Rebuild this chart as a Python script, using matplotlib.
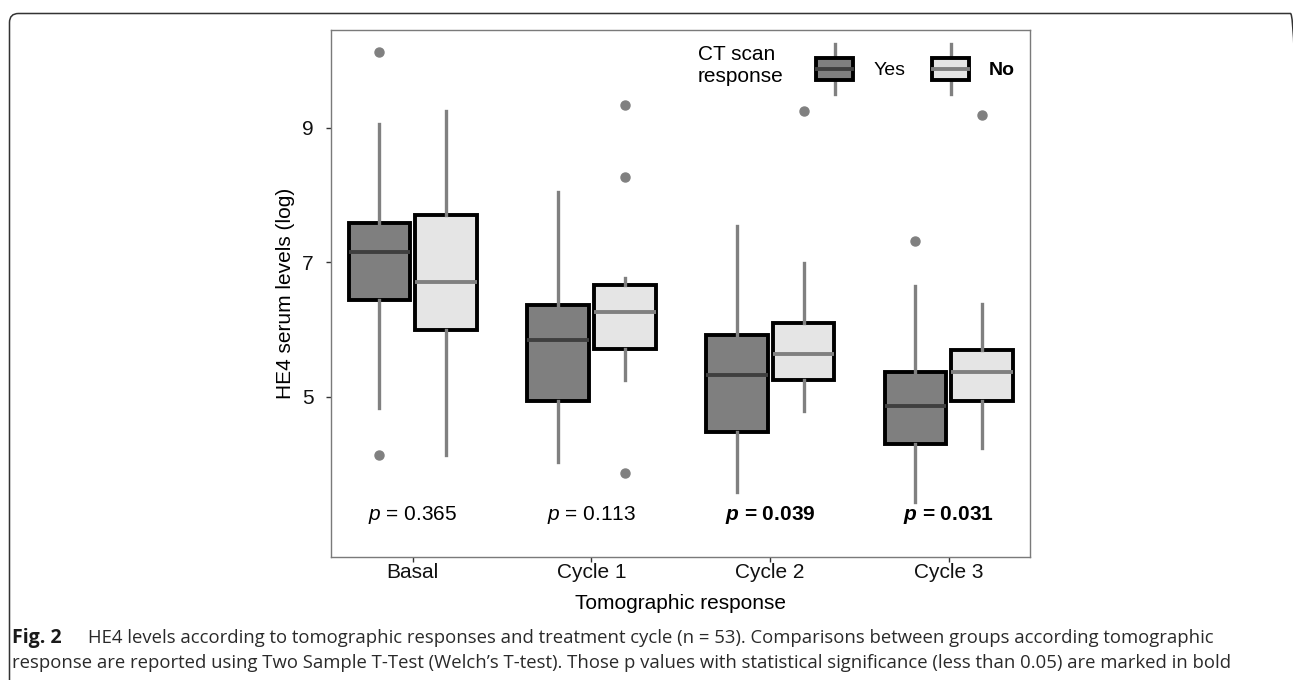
import numpy as np
import matplotlib.pyplot as plt
from matplotlib.patches import Rectangle, FancyBboxPatch
from matplotlib.lines import Line2D
from matplotlib.legend_handler import HandlerBase

# Donnees (log HE4)
cycles = ["Basal", "Cycle 1", "Cycle 2", "Cycle 3"]
p_valeurs = ["0.365", "0.113", "0.039", "0.031"]
p_signif = [False, False, True, True]

# reponse scanner = Yes
oui_q1 = [6.44, 4.94, 4.47, 4.30]
oui_med = [7.15, 5.85, 5.33, 4.87]
oui_q3 = [7.58, 6.37, 5.92, 5.37]
oui_bas = [4.83, 4.03, 3.59, 3.43]
oui_haut = [9.05, 8.05, 7.54, 6.64]
oui_atyp = [[10.12, 4.14], [], [], [7.32]]

# reponse scanner = No
non_q1 = [6.00, 5.71, 5.25, 4.94]
non_med = [6.70, 6.26, 5.63, 5.37]
non_q3 = [7.70, 6.66, 6.10, 5.69]
non_bas = [4.13, 5.25, 4.79, 4.24]
non_haut = [9.24, 6.77, 6.99, 6.38]
non_atyp = [[], [9.34, 8.26, 3.87], [9.24], [9.19]]

gris = "#808080"
fonce = "#7f7f7f"
clair = "#e5e5e5"

plt.rcParams['font.family'] = ["Liberation Sans", "DejaVu Sans"]
plt.rcParams['mathtext.fontset'] = 'custom'
plt.rcParams['mathtext.it'] = 'Liberation Sans:italic'
plt.rcParams['mathtext.bf'] = 'Liberation Sans:bold'
plt.rcParams['mathtext.bfit'] = 'Liberation Sans:bold:italic'


def stats(q1, med, q3, bas, haut, atyp):
    return [dict(q1=a, med=b, q3=c, whislo=d, whishi=e, fliers=f)
            for a, b, c, d, e, f in zip(q1, med, q3, bas, haut, atyp)]


class HandlerBoite(HandlerBase):
    """Symbole de legende en forme de boite a moustaches"""

    def __init__(self, couleur, mediane):
        super().__init__()
        self.couleur = couleur
        self.mediane = mediane

    def create_artists(self, legend, orig_handle, xdescent, ydescent,
                       width, height, fontsize, trans):
        x0 = -xdescent
        y0 = -ydescent
        cx = x0 + width / 2
        trait = Line2D([cx, cx], [y0 - 0.635 * height, y0 + 1.635 * height],
                       color=gris, lw=2.4, transform=trans)
        boite = Rectangle((x0, y0), width, height, facecolor=self.couleur,
                          edgecolor='black', lw=2.8, transform=trans)
        med = Line2D([x0 + 1, x0 + width - 1], [y0 + height / 2] * 2,
                     color=self.mediane, lw=2.8, transform=trans)
        return [trait, boite, med]


fig = plt.figure(figsize=(12.93, 6.80), dpi=100)
ax = fig.add_axes([330.7 / 1293, 1 - 557 / 680, 699.3 / 1293, 527 / 680])

x = np.arange(1, len(cycles) + 1)
dec = 0.187
larg = 0.345

for st, pos, couleur, cmed in [
        (stats(oui_q1, oui_med, oui_q3, oui_bas, oui_haut, oui_atyp), x - dec, fonce, "#3f3f3f"),
        (stats(non_q1, non_med, non_q3, non_bas, non_haut, non_atyp), x + dec, clair, gris)]:
    ax.bxp(st, positions=pos, widths=larg, patch_artist=True, showcaps=False,
           boxprops=dict(facecolor=couleur, edgecolor='black', linewidth=2.8),
           whiskerprops=dict(color=gris, linewidth=2.4),
           medianprops=dict(color=cmed, linewidth=2.8),
           flierprops=dict(marker='o', markerfacecolor=gris, markeredgecolor=gris,
                           markersize=6.5))

# p valeurs sous les boites
for i in range(len(cycles)):
    if p_signif[i]:
        ax.text(x[i], 3.25, r"$\mathbfit{p}$ = " + p_valeurs[i], ha='center', va='center',
                fontsize=15, fontweight='bold')
    else:
        ax.text(x[i], 3.25, r"$\mathit{p}$ = " + p_valeurs[i], ha='center', va='center',
                fontsize=15)

ax.set_xlim(0.54, 4.455)
ax.set_ylim(2.62, 10.45)
ax.set_yticks([5, 7, 9])
ax.set_yticklabels(["5", "7", "9"])
ax.set_xticks(x)
ax.set_xticklabels(cycles)
ax.tick_params(labelsize=15, length=3.5, width=1, color="#333333", labelcolor='#111111')
ax.tick_params(axis='y', pad=9)
ax.tick_params(axis='x', pad=0.5)
for s in ax.spines.values():
    s.set_color("#7a7a7a")
    s.set_linewidth(1)

ax.set_ylabel("HE4 serum levels (log)", fontsize=15, labelpad=5)
ax.set_xlabel("Tomographic response", fontsize=15, labelpad=9)

# legende
p_oui = Rectangle((0, 0), 1, 1)
p_non = Rectangle((0, 0), 1, 1)
leg = ax.legend([p_oui, p_non], ["Yes", "No"], ncol=2, frameon=False, fontsize=14,
                loc='center right', bbox_to_anchor=(0.9786, 0.926), borderpad=0, borderaxespad=0,
                handlelength=1.9, handleheight=1.34, handletextpad=1.03, columnspacing=1.39,
                handler_map={p_oui: HandlerBoite(fonce, "#3f3f3f"), p_non: HandlerBoite(clair, gris)})
leg.get_texts()[1].set_fontweight('bold')
ax.text(0.525, 0.932, "CT scan\nresponse", transform=ax.transAxes, ha='left', va='center',
        fontsize=15, linespacing=1.2)

# legende de la figure, taille ajustee pour finir vers x = 1212 px
ligne1 = ("HE4 levels according to tomographic responses and treatment cycle (n = 53). "
          "Comparisons between groups according tomographic")
ligne2 = ("response are reported using Two Sample T-Test (Welch\u2019s T-test). Those p values "
          "with statistical significance (less than 0.05) are marked in bold")
legende = dict(fontsize=13, family=["Open Sans"], va='baseline', color='#2a2a2a')
fig.text(12 / 1293, 1 - 643 / 680, "Fig. 2", fontsize=14, family=["Open Sans"],
         va='baseline', fontweight='bold', color='#1a1a1a')
t1 = fig.text(88 / 1293, 1 - 643 / 680, ligne1, **legende)
t2 = fig.text(12 / 1293, 1 - 668 / 680, ligne2, **legende)

rend = fig.canvas.get_renderer()
l1 = t1.get_window_extent(rend).width
l2 = t2.get_window_extent(rend).width
taille = 13 * ((1212 - 88) / l1 + (1212 - 12) / l2) / 2
t1.set_fontsize(taille)
t2.set_fontsize(taille)

# cadre arrondi
cadre = FancyBboxPatch((9.5, -40), 1290, 680 - 13.5 + 40, boxstyle="round,pad=0,rounding_size=9",
                       transform=None, facecolor='none', edgecolor='#333333', lw=1.1)
fig.patches.append(cadre)

fig.savefig("out.png", dpi=100)
